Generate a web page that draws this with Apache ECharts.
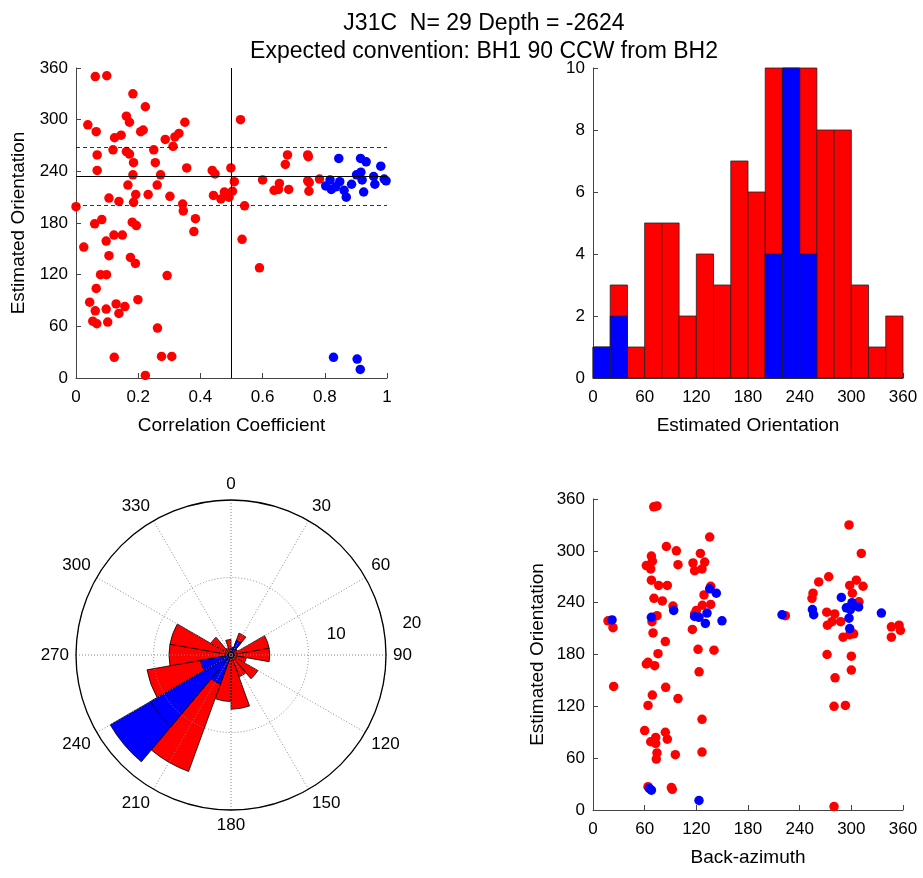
<!DOCTYPE html>
<html lang="en">
<head>
  <meta charset="UTF-8">
  <script src="https://cdn.jsdelivr.net/npm/echarts@6.0.0/dist/echarts.min.js"></script>
</head>
<body style="margin:0">
  <div id="main" style="width: 923px;height:878px;"></div>

  <script type="text/javascript">

    // top left: correlation coefficient vs estimated orientation
    var corrRed = [
      [0.062, 350], [0.099, 351], [0.183, 330], [0.223, 315], [0.162, 304], [0.172, 297], [0.038, 294], [0.35, 297],
      [0.065, 286], [0.208, 286], [0.216, 288], [0.124, 279], [0.145, 282], [0.331, 284], [0.318, 280], [0.287, 277],
      [0.312, 269], [0.119, 265], [0.162, 263], [0.172, 260], [0.068, 259], [0.25, 265], [0.185, 250], [0.255, 250],
      [0.068, 241], [0.356, 244], [0.183, 236], [0.272, 236], [0.167, 224], [0.261, 224], [0.192, 213], [0.232, 213],
      [0.106, 209], [0.138, 205], [0.185, 204], [0.302, 211], [0.343, 202], [0.345, 194], [0.384, 185], [0.379, 170],
      [0.0, 199], [0.06, 179], [0.083, 184], [0.181, 181], [0.194, 177], [0.122, 166], [0.149, 166], [0.097, 159],
      [0.025, 152], [0.106, 142], [0.175, 140], [0.191, 133], [0.079, 120], [0.098, 120], [0.293, 119], [0.065, 104],
      [0.044, 88], [0.199, 91], [0.062, 78], [0.097, 80], [0.129, 86], [0.157, 83], [0.138, 75], [0.054, 66],
      [0.067, 63], [0.102, 65], [0.262, 58], [0.123, 24], [0.275, 25], [0.308, 25], [0.223, 3],
      [0.438, 241], [0.447, 237], [0.498, 244], [0.509, 228], [0.442, 212], [0.466, 208], [0.477, 216], [0.492, 210],
      [0.503, 217], [0.529, 300], [0.542, 200], [0.534, 161], [0.59, 128], [0.6, 230], [0.637, 218], [0.654, 226],
      [0.651, 219], [0.684, 219], [0.673, 248], [0.68, 259], [0.745, 259], [0.747, 257], [0.745, 229], [0.75, 227],
      [0.749, 217], [0.783, 231]
    ];
    var corrBlue = [
      [0.845, 255], [0.915, 255], [0.933, 251], [0.98, 246], [0.817, 230], [0.803, 223], [0.821, 219], [0.835, 222],
      [0.848, 228], [0.862, 218], [0.869, 210], [0.886, 225], [0.902, 236], [0.916, 239], [0.92, 230], [0.925, 216],
      [0.957, 234], [0.961, 225], [0.991, 231], [0.997, 229], [0.828, 24], [0.904, 22], [0.914, 10]
    ];
    var corrCut = 0.5;
    var meanOrient = 234;
    var orientBounds = [267.5, 200.5];

    // top right: histogram of estimated orientation, 20 degree bins
    var binStarts = [0, 20, 40, 60, 80, 100, 120, 140, 160, 180, 200, 220, 240, 260, 280, 300, 320, 340];
    var histAll = [1, 3, 1, 5, 5, 2, 4, 3, 7, 6, 10, 10, 10, 8, 8, 3, 1, 2];
    var histBlue = [1, 2, 0, 0, 0, 0, 0, 0, 0, 0, 4, 10, 4, 0, 0, 0, 0, 0];

    // bottom left: rose of estimated orientation
    var roseAll = [1, 3, 1, 5, 5, 2, 4, 3, 7, 6, 16, 18, 11, 8, 8, 3, 1, 2];
    var roseBlue = [1, 2, 0, 0, 0, 0, 0, 0, 0, 0, 4, 12, 4, 0, 0, 0, 0, 0];
    var roseTicks = [0, 30, 60, 90, 120, 150, 180, 210, 240, 270, 300, 330];

    // bottom right: back-azimuth vs estimated orientation
    var bazRed = [
      [17.4, 219], [23.2, 211], [24, 143], [70.5, 351], [74.3, 352], [85.2, 305], [96.8, 300], [98.7, 284],
      [124.7, 297], [135.5, 316], [116.1, 286], [118, 277], [126.6, 279], [129.7, 287], [61.9, 283], [67.8, 294],
      [68.9, 288], [67, 279], [67.8, 266], [76.3, 260], [86.3, 260], [70.8, 245], [80.5, 242], [92.9, 236],
      [74.3, 225], [68.5, 218], [69.7, 205], [84, 195], [75.5, 181], [61.9, 169], [63.9, 171], [71.6, 167],
      [68.9, 133], [84.4, 142], [98.7, 129], [63.9, 121], [60, 92], [67, 79], [72.8, 84], [72.8, 77],
      [84, 90], [86.3, 82], [74.3, 66], [73.5, 59], [95.6, 64], [63.9, 27], [91, 26], [92.1, 24],
      [115.4, 209], [122, 186], [123.2, 160], [126.6, 105], [126.6, 67], [140.5, 185], [136.7, 259], [128.9, 249],
      [127, 237], [136.7, 238], [120, 231], [118, 227], [223.4, 225], [255.5, 251], [254.3, 245], [262.1, 264],
      [273.7, 270], [271.4, 229], [272.2, 214], [280.7, 227], [277.6, 218], [287.6, 218], [290.4, 200], [271.8, 180],
      [281.1, 153], [279.9, 120], [293.1, 121], [297.3, 330], [298.1, 260], [301.2, 251], [305.8, 266], [313.6, 259],
      [311.6, 297], [308.9, 241], [298.1, 203], [302.7, 204], [300, 178], [300, 162], [346.5, 212], [346.5, 200],
      [355.4, 214], [357, 208], [279.9, 4]
    ];
    var bazBlue = [
      [22.1, 220], [67.8, 223], [93.7, 231], [118, 224], [123.1, 223], [132.4, 228], [130.5, 216], [149.8, 219],
      [135.5, 256], [143.2, 251], [65.4, 25], [67.8, 23], [123.1, 11], [219.5, 226], [254.8, 232], [256.3, 226],
      [288.4, 246], [294.2, 234], [298.9, 232], [300.8, 240], [297.3, 222], [298.1, 210], [308.5, 235], [334.9, 228]
    ];

    var RED = '#ff0000';
    var BLUE = '#0000ff';
    var AXIS = '#444';
    var roseOuterBlueBin = 11;

    var chart = echarts.init(document.getElementById('main'));

    function cartAxis(grid, min, max, interval, name, gap, margin) {
      return {
        gridIndex: grid,
        type: 'value',
        min: min,
        max: max,
        interval: interval,
        name: name,
        nameLocation: 'middle',
        nameGap: gap,
        nameTextStyle: { fontSize: 19, color: '#000' },
        axisLine: { show: true, onZero: false, lineStyle: { color: AXIS, width: 1 } },
        axisTick: { show: true, inside: true, length: 5, lineStyle: { color: AXIS } },
        axisLabel: { fontSize: 17, color: '#000', margin: margin },
        splitLine: { show: false }
      };
    }

    function histItem(color) {
      return function (params, api) {
        var p0 = api.coord([api.value(0), 0]);
        var p1 = api.coord([api.value(1), api.value(2)]);
        return {
          type: 'rect',
          shape: { x: p0[0], y: p1[1], width: p1[0] - p0[0], height: p0[1] - p1[1] },
          style: { fill: color, stroke: '#222', lineWidth: 0.8 }
        };
      };
    }

    var histAllData = binStarts.map(function (b, i) { return [b, b + 20, histAll[i]]; });
    var histBlueData = binStarts.map(function (b, i) { return [b, b + 20, histBlue[i]]; })
      .filter(function (d) { return d[2] > 0; });

    var binNames = binStarts.map(function (b) { return b + '-' + (b + 20); });
    var roseAllData = roseAll.map(function (v, i) {
      return { value: v, itemStyle: { color: i === roseOuterBlueBin ? BLUE : RED } };
    });

    var blackLine = { color: '#000', width: 1, type: 'solid' };
    var dashLine = { color: '#000', width: 0.8, type: [4, 3] };
    var dot = { symbolSize: 9.5, itemStyle: { opacity: 1 } };

    var option = {
      animation: false,
      textStyle: { fontFamily: 'Liberation Sans, Arial, sans-serif' },
      title: {
        text: 'J31C  N= 29 Depth = -2624\nExpected convention: BH1 90 CCW from BH2',
        left: 479,
        top: 5,
        textAlign: 'center',
        textStyle: { fontSize: 23, fontWeight: 'normal', color: '#000', lineHeight: 28 }
      },
      grid: [
        { left: 76, width: 311, top: 68, height: 310 },
        { left: 593, width: 310, top: 68, height: 310 },
        { left: 593, width: 310, top: 499, height: 311 }
      ],
      xAxis: [
        cartAxis(0, 0, 1, 0.2, 'Correlation Coefficient', 38, 11),
        cartAxis(1, 0, 360, 60, 'Estimated Orientation', 38, 11),
        cartAxis(2, 0, 360, 60, 'Back-azimuth', 38, 11)
      ],
      yAxis: [
        cartAxis(0, 0, 360, 60, 'Estimated Orientation', 48, 8),
        cartAxis(1, 0, 10, 2, '', 30, 8),
        cartAxis(2, 0, 360, 60, 'Estimated Orientation', 46, 8)
      ],
      polar: [
        { center: [231, 655], radius: 155 },
        { center: [231, 655], radius: 155 },
        { center: [231, 655], radius: [40, 193] }
      ],
      angleAxis: [
        { polarIndex: 0, type: 'category', data: binNames, startAngle: 90, clockwise: true, show: false },
        {
          polarIndex: 1, type: 'value', min: 0, max: 360, interval: 30, startAngle: 90, clockwise: true, z: 10,
          axisLine: { show: true, lineStyle: { color: '#000', width: 1.3 } },
          axisTick: { show: false },
          axisLabel: {
            fontSize: 17, color: '#000', margin: 7,
            formatter: function (v) { return roseTicks.indexOf(v) >= 0 ? String(v) : ''; }
          },
          splitLine: { show: true, lineStyle: { color: '#888', width: 1, type: [1, 2] } }
        },
        { polarIndex: 2, type: 'value', startAngle: 9, show: false }
      ],
      radiusAxis: [
        { polarIndex: 0, min: 0, max: 20, show: false },
        {
          polarIndex: 1, min: 0, max: 20, interval: 10, z: 10,
          axisLine: { show: false }, axisTick: { show: false }, axisLabel: { show: false },
          splitLine: { show: true, lineStyle: { color: '#888', width: 1, type: [1, 2] } }
        },
        {
          polarIndex: 2, min: 0, max: 20, interval: 10,
          axisLine: { show: false }, axisTick: { show: false }, splitLine: { show: false },
          axisLabel: {
            fontSize: 17, color: '#000', margin: 2,
            formatter: function (v) { return v === 0 ? '' : String(v); }
          }
        }
      ],
      series: [
        Object.assign({
          type: 'scatter', xAxisIndex: 0, yAxisIndex: 0, data: corrRed, color: RED,
          markLine: {
            silent: true, symbol: 'none', label: { show: false },
            data: [
              { xAxis: corrCut, lineStyle: blackLine },
              { yAxis: meanOrient, lineStyle: blackLine },
              { yAxis: orientBounds[0], lineStyle: dashLine },
              { yAxis: orientBounds[1], lineStyle: dashLine }
            ]
          }
        }, dot),
        Object.assign({ type: 'scatter', xAxisIndex: 0, yAxisIndex: 0, data: corrBlue, color: BLUE }, dot),
        {
          type: 'custom', xAxisIndex: 1, yAxisIndex: 1, data: histAllData,
          encode: { x: [0, 1], y: 2 }, renderItem: histItem(RED)
        },
        {
          type: 'custom', xAxisIndex: 1, yAxisIndex: 1, data: histBlueData,
          encode: { x: [0, 1], y: 2 }, renderItem: histItem(BLUE)
        },
        {
          type: 'bar', coordinateSystem: 'polar', polarIndex: 0, data: roseAllData,
          barCategoryGap: '0%', barGap: '-100%',
          itemStyle: { borderColor: '#000', borderWidth: 0.8 }
        },
        {
          type: 'bar', coordinateSystem: 'polar', polarIndex: 0, data: roseBlue,
          barCategoryGap: '0%', barGap: '-100%',
          itemStyle: { color: BLUE, borderColor: '#000', borderWidth: 0.8 }
        },
        Object.assign({ type: 'scatter', xAxisIndex: 2, yAxisIndex: 2, data: bazRed, color: RED }, dot),
        Object.assign({ type: 'scatter', xAxisIndex: 2, yAxisIndex: 2, data: bazBlue, color: BLUE }, dot)
      ]
    };

    chart.setOption(option);
  </script>
</body>
</html>
